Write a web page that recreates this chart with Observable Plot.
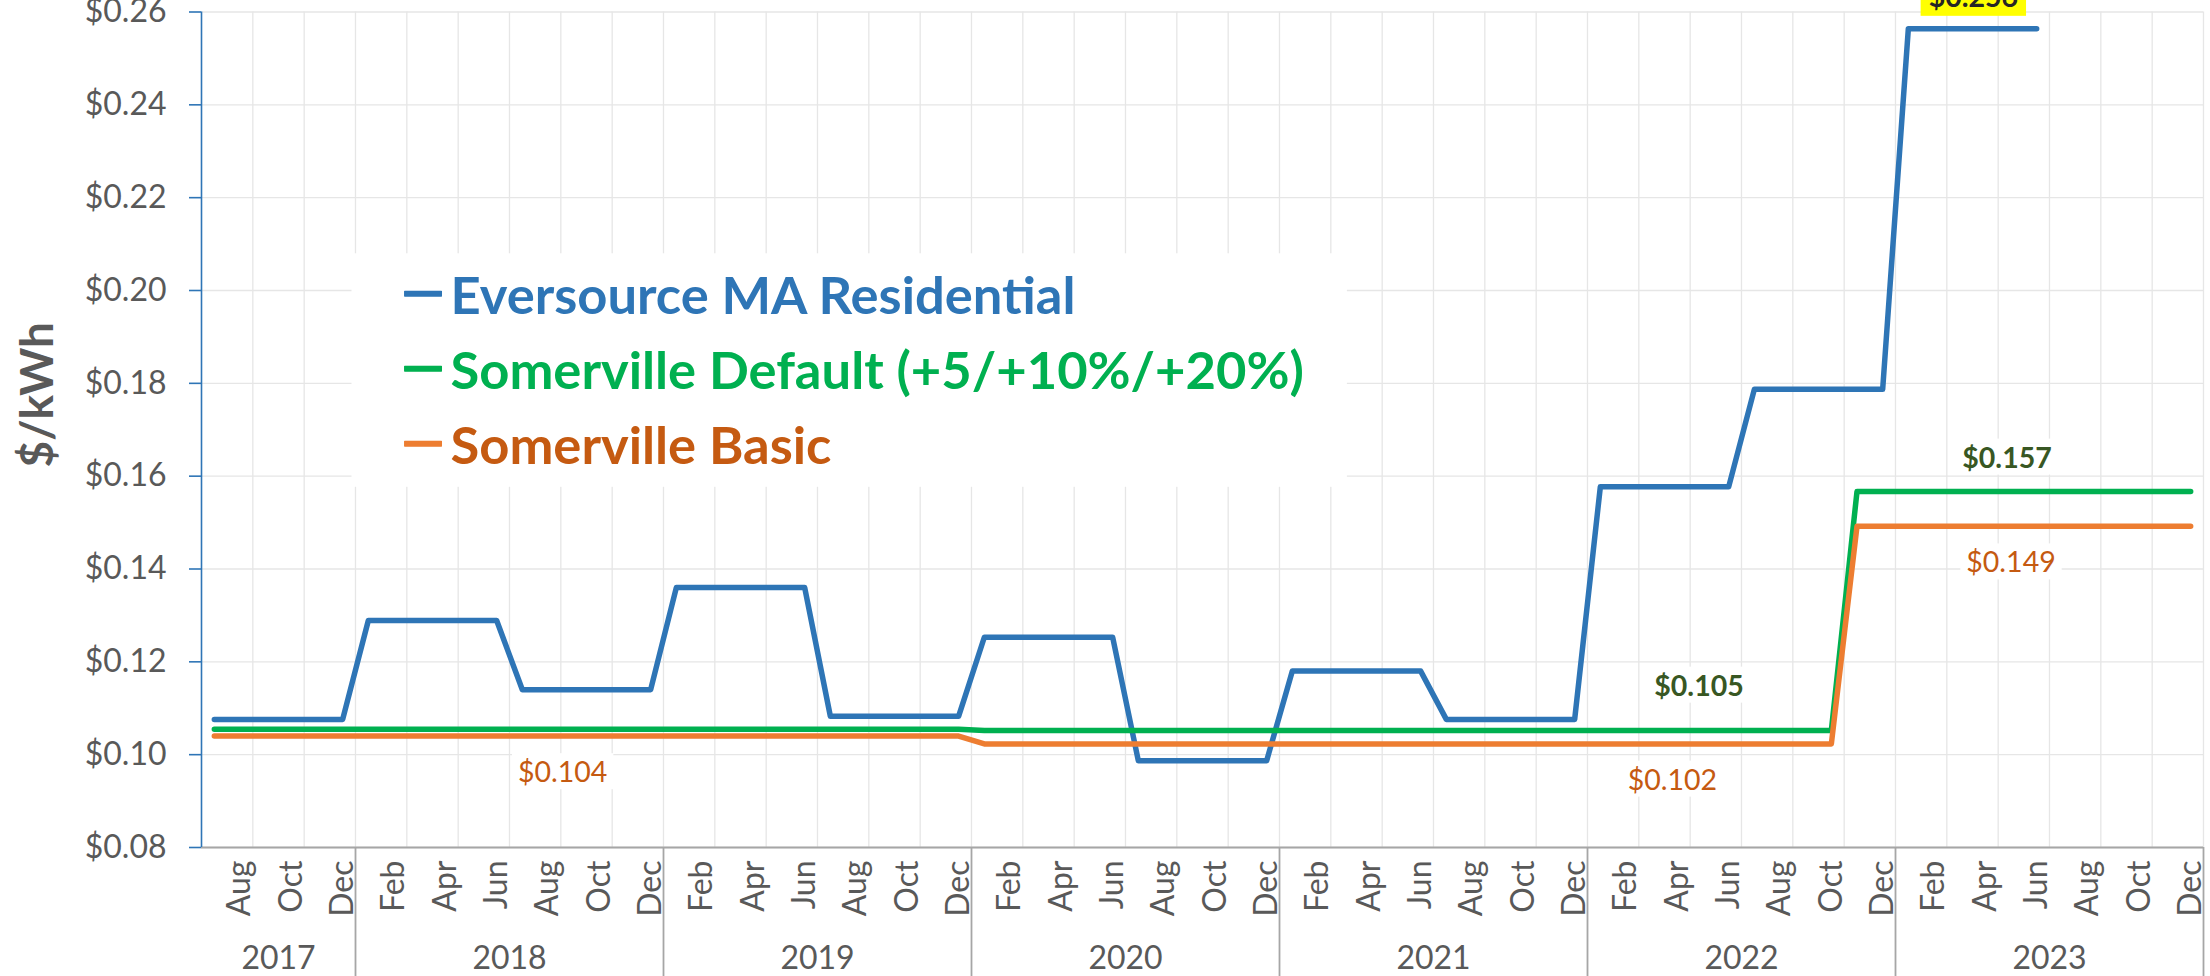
<!DOCTYPE html>
<html>
<head>
<meta charset="utf-8">
<script src="https://cdn.jsdelivr.net/npm/d3@7"></script>
<script src="https://cdn.jsdelivr.net/npm/@observablehq/plot@0.6"></script>
<style>
  html, body { margin: 0; padding: 0; background: #ffffff; }
  #chart svg { display: block; }
</style>
</head>
<body>
<div id="chart"></div>
<script>
// ---------- DATA ----------
const categories = [
  "2017-07","2017-08","2017-09","2017-10","2017-11","2017-12",
  "2018-01","2018-02","2018-03","2018-04","2018-05","2018-06","2018-07","2018-08","2018-09","2018-10","2018-11","2018-12",
  "2019-01","2019-02","2019-03","2019-04","2019-05","2019-06","2019-07","2019-08","2019-09","2019-10","2019-11","2019-12",
  "2020-01","2020-02","2020-03","2020-04","2020-05","2020-06","2020-07","2020-08","2020-09","2020-10","2020-11","2020-12",
  "2021-01","2021-02","2021-03","2021-04","2021-05","2021-06","2021-07","2021-08","2021-09","2021-10","2021-11","2021-12",
  "2022-01","2022-02","2022-03","2022-04","2022-05","2022-06","2022-07","2022-08","2022-09","2022-10","2022-11","2022-12",
  "2023-01","2023-02","2023-03","2023-04","2023-05","2023-06","2023-07","2023-08","2023-09","2023-10","2023-11","2023-12"
];
const monthNames = ["Jan","Feb","Mar","Apr","May","Jun","Jul","Aug","Sep","Oct","Nov","Dec"];
const yTicks = [0.08, 0.10, 0.12, 0.14, 0.16, 0.18, 0.20, 0.22, 0.24, 0.26];

const eversource = [
  0.1076,0.1076,0.1076,0.1076,0.1076,0.1076,
  0.1289,0.1289,0.1289,0.1289,0.1289,0.1289, 0.1140,0.1140,0.1140,0.1140,0.1140,0.1140,
  0.1360,0.1360,0.1360,0.1360,0.1360,0.1360, 0.1083,0.1083,0.1083,0.1083,0.1083,0.1083,
  0.1253,0.1253,0.1253,0.1253,0.1253,0.1253, 0.0987,0.0987,0.0987,0.0987,0.0987,0.0987,
  0.1180,0.1180,0.1180,0.1180,0.1180,0.1180, 0.1076,0.1076,0.1076,0.1076,0.1076,0.1076,
  0.1577,0.1577,0.1577,0.1577,0.1577,0.1577, 0.1787,0.1787,0.1787,0.1787,0.1787,0.1787,
  0.2564,0.2564,0.2564,0.2564,0.2564,0.2564, null,null,null,null,null,null
];
const somervilleDefault = [
  0.1055,0.1055,0.1055,0.1055,0.1055,0.1055,
  0.1055,0.1055,0.1055,0.1055,0.1055,0.1055, 0.1055,0.1055,0.1055,0.1055,0.1055,0.1055,
  0.1055,0.1055,0.1055,0.1055,0.1055,0.1055, 0.1055,0.1055,0.1055,0.1055,0.1055,0.1055,
  0.1052,0.1052,0.1052,0.1052,0.1052,0.1052, 0.1052,0.1052,0.1052,0.1052,0.1052,0.1052,
  0.1052,0.1052,0.1052,0.1052,0.1052,0.1052, 0.1052,0.1052,0.1052,0.1052,0.1052,0.1052,
  0.1052,0.1052,0.1052,0.1052,0.1052,0.1052, 0.1052,0.1052,0.1052,0.1052,0.1567,0.1567,
  0.1567,0.1567,0.1567,0.1567,0.1567,0.1567, 0.1567,0.1567,0.1567,0.1567,0.1567,0.1567
];
const somervilleBasic = [
  0.1040,0.1040,0.1040,0.1040,0.1040,0.1040,
  0.1040,0.1040,0.1040,0.1040,0.1040,0.1040, 0.1040,0.1040,0.1040,0.1040,0.1040,0.1040,
  0.1040,0.1040,0.1040,0.1040,0.1040,0.1040, 0.1040,0.1040,0.1040,0.1040,0.1040,0.1040,
  0.1023,0.1023,0.1023,0.1023,0.1023,0.1023, 0.1023,0.1023,0.1023,0.1023,0.1023,0.1023,
  0.1023,0.1023,0.1023,0.1023,0.1023,0.1023, 0.1023,0.1023,0.1023,0.1023,0.1023,0.1023,
  0.1023,0.1023,0.1023,0.1023,0.1023,0.1023, 0.1023,0.1023,0.1023,0.1023,0.1492,0.1492,
  0.1492,0.1492,0.1492,0.1492,0.1492,0.1492, 0.1492,0.1492,0.1492,0.1492,0.1492,0.1492
];
const seriesKeys = ["eversource", "default", "basic"];
const seriesNames = ["Eversource MA Residential", "Somerville Default (+5/+10%/+20%)", "Somerville Basic"];
const valueLabels = [
  {series: "basic", month: "2018-09", text: "$0.104"},
  {series: "basic", month: "2022-04", text: "$0.102"},
  {series: "default", month: "2022-05", text: "$0.105"},
  {series: "default", month: "2023-05", text: "$0.157"},
  {series: "basic", month: "2023-05", text: "$0.149"},
  {series: "eversource", month: "2023-04", text: "$0.256"}
];

// ---------- STYLES ----------
const seriesValues = {eversource, default: somervilleDefault, basic: somervilleBasic};
const lineColor = {eversource: "#2E75B6", default: "#00B050", basic: "#ED7D31"};
const legendTextColor = {eversource: "#2E75B6", default: "#00B050", basic: "#C55A11"};
const labelStyle = {
  "$0.104": {dx: -11, dy: 37, fill: "#C55A11", fontWeight: "normal"},
  "$0.102": {dx: -5, dy: 36.5, fill: "#C55A11", fontWeight: "normal"},
  "$0.105": {dx: -4, dy: -44, fill: "#385723", fontWeight: "bold"},
  "$0.157": {dx: -4, dy: -33, fill: "#385723", fontWeight: "bold"},
  "$0.149": {dx: 0, dy: 37, fill: "#C55A11", fontWeight: "normal"},
  "$0.256": {dx: -12, dy: -31, fill: "#262626", fontWeight: "bold", bg: "#FFFF00"}
};
const textGray = "#595959";
const gridColor = "#e6e6e6";
const axisGray = "#a6a6a6";
const legendFont = 52.5;

// ---------- DERIVED ----------
const N = categories.length;
const rows = seriesKeys.map(k => seriesValues[k].map((v, i) => ({i, v, k})));
const monthTicks = categories
  .map((c, i) => ({i, m: +c.slice(5)}))
  .filter(d => d.m % 2 === 0)
  .map(d => ({i: d.i, label: monthNames[d.m - 1]}));
const years = Array.from(new Set(categories.map(c => c.slice(0, 4))));
const yearGroups = years.map(y => {
  const idx = categories.map((c, i) => c.startsWith(y) ? i : -1).filter(i => i >= 0);
  return {year: y, first: idx[0], last: idx[idx.length - 1], center: (idx[0] + idx[idx.length - 1]) / 2};
});
const yearBoundaries = yearGroups.map(g => g.last + 0.5);
const gridBoundaries = monthTicks.map(d => d.i + 0.5);

const labelMarks = valueLabels.map(l => {
  const i = categories.indexOf(l.month);
  const s = labelStyle[l.text];
  return Plot.text([{i, v: seriesValues[l.series][i], text: l.text}], {
    x: "i", y: "v", text: "text", lineAnchor: "middle", textAnchor: "middle",
    dx: s.dx, dy: s.dy, fill: s.fill, fontWeight: s.fontWeight, fontSize: 28.5
  });
});

const legendMarks = [];
seriesKeys.forEach((k, j) => {
  legendMarks.push(Plot.text([seriesNames[j]], {
    frameAnchor: "top-left", text: () => "\u2014", dx: 200, dy: 281 + j * 75,
    lineAnchor: "middle", textAnchor: "start",
    fill: lineColor[k], stroke: lineColor[k], strokeWidth: 1.3, fontWeight: "bold", fontSize: 54
  }));
  legendMarks.push(Plot.text([seriesNames[j]], {
    frameAnchor: "top-left", text: d => d, dx: 249, dy: 285 + j * 75,
    lineAnchor: "middle", textAnchor: "start",
    fill: legendTextColor[k], fontWeight: "bold", fontSize: legendFont
  }));
});

const chart = Plot.plot({
  width: 2210,
  height: 976,
  marginTop: 11.5,
  marginRight: 7,
  marginBottom: 129,
  marginLeft: 201,
  style: {fontFamily: "Lato, 'Open Sans', sans-serif", fontSize: "32px", background: "#ffffff", color: textGray},
  x: {domain: [-0.5, N - 0.5], axis: null},
  y: {domain: [yTicks[0], yTicks[yTicks.length - 1]], axis: null},
  marks: [
    Plot.gridY(yTicks, {stroke: gridColor, strokeOpacity: 1, strokeWidth: 1.3}),
    Plot.gridX(gridBoundaries, {stroke: gridColor, strokeOpacity: 1, strokeWidth: 1.3}),
    Plot.ruleY([yTicks[0]], {stroke: axisGray, strokeWidth: 1.8}),
    Plot.axisX(yearBoundaries, {anchor: "bottom", tickSize: 129, tickFormat: () => "", stroke: axisGray, strokeWidth: 1.8, label: null}),
    Plot.ruleX([-0.5], {stroke: "#2E75B6", strokeWidth: 1.6}),
    Plot.axisY(yTicks, {anchor: "left", tickSize: 12, tickPadding: 23, tickFormat: d => "$" + d.toFixed(2),
      stroke: "#2E75B6", strokeWidth: 1.6, fill: textGray, fontSize: 32, label: null}),
    Plot.text(monthTicks, {x: "i", text: "label", frameAnchor: "bottom", rotate: -90,
      textAnchor: "end", lineAnchor: "middle", dy: 13, fill: textGray, fontSize: 32}),
    Plot.text(yearGroups, {x: "center", text: "year", frameAnchor: "bottom",
      textAnchor: "middle", lineAnchor: "middle", dy: 111, fill: textGray, fontSize: 32}),
    Plot.text(["$/kWh"], {frameAnchor: "left", text: d => d, rotate: -90, dx: -163, dy: -35,
      textAnchor: "middle", lineAnchor: "middle", fill: textGray, fontWeight: "bold", fontSize: 46}),
    ...rows.map((r, j) => Plot.line(r, {x: "i", y: "v", stroke: lineColor[seriesKeys[j]], strokeWidth: 5.5,
      strokeLinejoin: "round", strokeLinecap: "round"})),
    ...labelMarks,
    ...legendMarks
  ]
});

document.getElementById("chart").append(chart);

// ---------- backgrounds behind data labels and the legend ----------
const svg = chart.tagName.toLowerCase() === "svg" ? chart : chart.querySelector("svg");
const root = svg.getBoundingClientRect();
const NS = "http://www.w3.org/2000/svg";
function addRect(beforeNode, x, y, w, h, fill) {
  const r = document.createElementNS(NS, "rect");
  r.setAttribute("x", x); r.setAttribute("y", y);
  r.setAttribute("width", w); r.setAttribute("height", h);
  r.setAttribute("fill", fill);
  beforeNode.parentNode.insertBefore(r, beforeNode);
}
const allTexts = Array.from(svg.querySelectorAll("text"));
function groupOf(t) { let g = t; while (g.parentNode && g.parentNode !== svg) g = g.parentNode; return g; }
valueLabels.forEach(l => {
  const t = allTexts.find(e => e.textContent === l.text);
  if (!t) return;
  const b = t.getBoundingClientRect();
  const yellow = !!labelStyle[l.text].bg;
  const px = yellow ? 8 : 6, py = yellow ? 3 : 1;
  addRect(groupOf(t), b.left - root.left - px, b.top - root.top - py, b.width + 2 * px, b.height + 2 * py,
    yellow ? labelStyle[l.text].bg : "#ffffff");
});
const legendTexts = allTexts.filter(e => seriesNames.includes(e.textContent) || e.textContent === "\u2014");
if (legendTexts.length) {
  let x0 = Infinity, y0 = Infinity, x1 = -Infinity, y1 = -Infinity;
  legendTexts.forEach(t => {
    const b = t.getBoundingClientRect();
    x0 = Math.min(x0, b.left); y0 = Math.min(y0, b.top); x1 = Math.max(x1, b.right); y1 = Math.max(y1, b.bottom);
  });
  const firstGroup = groupOf(legendTexts[0]);
  addRect(firstGroup, x0 - root.left - 50, y0 - root.top - 4, x1 - x0 + 93, y1 - y0 + 16, "#ffffff");
}
</script>
</body>
</html>
